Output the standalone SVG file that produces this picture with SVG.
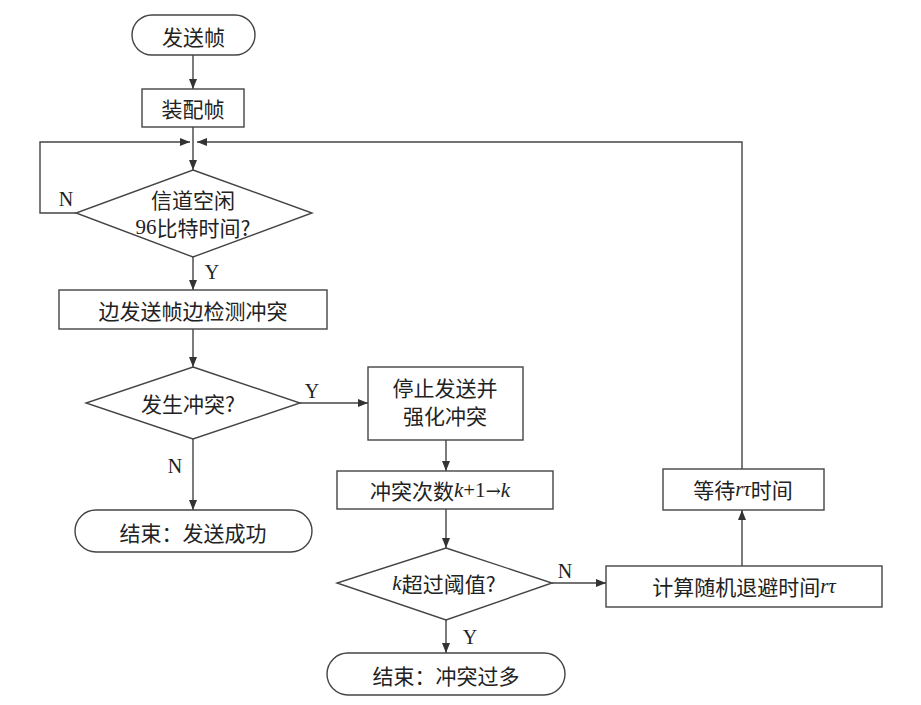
<svg xmlns="http://www.w3.org/2000/svg" width="921" height="705" viewBox="0 0 921 705">
<style>
.box{fill:#fff;stroke:#444;stroke-width:1.4}
.ln{fill:none;stroke:#444;stroke-width:1.4}
.t{font-family:"Noto Sans CJK SC","Noto Sans CJK JP",sans-serif;font-size:21px;fill:#222;text-anchor:middle;dominant-baseline:central}
.l{font-family:"Liberation Serif",serif;font-size:20px;fill:#222;text-anchor:middle;dominant-baseline:central}
.i{font-family:"Liberation Serif",serif;font-style:italic}
.s{font-family:"Liberation Serif",serif}
.ar{font-family:"DejaVu Serif",serif;font-size:18px}
</style>
<defs>
<marker id="a" viewBox="0 0 10 8" refX="10" refY="4" markerWidth="11" markerHeight="8" markerUnits="userSpaceOnUse" orient="auto">
<path d="M0,0 L10,4 L0,8 Z" fill="#333"/>
</marker>
</defs>
<rect width="921" height="705" fill="#fff"/>
<g id="connectors">
<path class="ln" d="M193,55 V89" marker-end="url(#a)"/>
<path class="ln" d="M193,127 V170" marker-end="url(#a)"/>
<path class="ln" d="M76,213 H40 V142 H190" marker-end="url(#a)"/>
<path class="ln" d="M742,469 V142 H197" marker-end="url(#a)"/>
<path class="ln" d="M193,257 V290" marker-end="url(#a)"/>
<path class="ln" d="M193,329 V367" marker-end="url(#a)"/>
<path class="ln" d="M300,403 H368" marker-end="url(#a)"/>
<path class="ln" d="M193,439 V510" marker-end="url(#a)"/>
<path class="ln" d="M446,440 V471" marker-end="url(#a)"/>
<path class="ln" d="M446,509 V548" marker-end="url(#a)"/>
<path class="ln" d="M552,583 H606" marker-end="url(#a)"/>
<path class="ln" d="M446,620 V653" marker-end="url(#a)"/>
<path class="ln" d="M742,566 V510" marker-end="url(#a)"/>
<text class="l" x="66" y="199">N</text>
<text class="l" x="212" y="272">Y</text>
<text class="l" x="312" y="391">Y</text>
<text class="l" x="175" y="466">N</text>
<text class="l" x="565" y="571">N</text>
<text class="l" x="470" y="637">Y</text>
</g>
<g id="start">
<rect class="box" x="132" y="15" width="123" height="40" rx="20"/>
<text class="t" x="193.5" y="36">发送帧</text>
</g>
<g id="assemble">
<rect class="box" x="142" y="89" width="102" height="38"/>
<text class="t" x="193" y="108">装配帧</text>
</g>
<g id="idle">
<polygon class="box" points="193,170 312,213 193,257 76,213"/>
<text class="t" x="193" y="199">信道空闲</text>
<text class="t" x="193" y="227"><tspan class="s">96</tspan>比特时间?</text>
</g>
<g id="send">
<rect class="box" x="59" y="290" width="268" height="39"/>
<text class="t" x="193" y="310">边发送帧边检测冲突</text>
</g>
<g id="collide">
<polygon class="box" points="193,367 300,403 193,439 86,403"/>
<text class="t" x="188" y="403">发生冲突?</text>
</g>
<g id="success">
<rect class="box" x="75" y="510" width="237" height="42" rx="21"/>
<text class="t" x="193" y="532">结束：发送成功</text>
</g>
<g id="jam">
<rect class="box" x="368" y="367" width="155" height="73"/>
<text class="t" x="445" y="387">停止发送并</text>
<text class="t" x="445" y="415">强化冲突</text>
</g>
<g id="count">
<rect class="box" x="337" y="471" width="216" height="38"/>
<text class="t" x="440" y="490">冲突次数<tspan class="i">k</tspan><tspan class="s">+1</tspan><tspan class="ar">→</tspan><tspan class="i">k</tspan></text>
</g>
<g id="threshold">
<polygon class="box" points="446,548 552,583 446,620 337,583"/>
<text class="t" x="444" y="583"><tspan class="i">k</tspan>超过阈值?</text>
</g>
<g id="toomany">
<rect class="box" x="327" y="653" width="238" height="42" rx="21"/>
<text class="t" x="446" y="675">结束：冲突过多</text>
</g>
<g id="backoff">
<rect class="box" x="606" y="566" width="276" height="41"/>
<text class="t" x="744" y="586">计算随机退避时间<tspan class="i">rτ</tspan></text>
</g>
<g id="wait">
<rect class="box" x="663" y="469" width="161" height="41"/>
<text class="t" x="743" y="489">等待<tspan class="i">rτ</tspan>时间</text>
</g>
</svg>
